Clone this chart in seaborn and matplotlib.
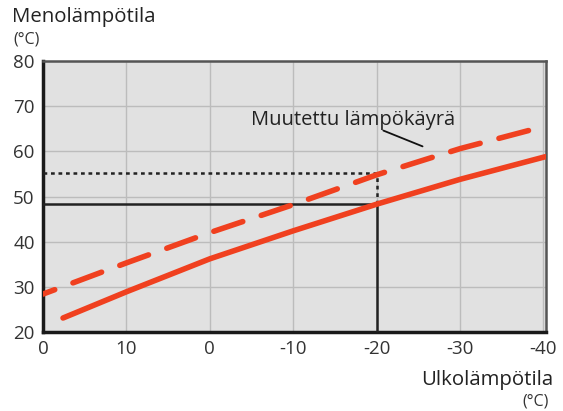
import matplotlib
matplotlib.use("Agg")
import matplotlib.pyplot as plt
import seaborn as sns
import pandas as pd

# Ulkolämpötila (x) ja menolämpötila (y)
ulko = [17.6, 10, 0, -10, -20, -30, -40.2]
meno_perus = [23.1, 28.9, 36.2, 42.4, 48.3, 53.8, 58.8]
ulko_muutettu = [20, 10, 0, -10, -20, -30, -38.2]
meno_muutettu = [28.4, 35.3, 42.0, 48.2, 54.8, 60.6, 64.6]

x_ticks = [20, 10, 0, -10, -20, -30, -40]
x_labels = ["0", "10", "0", "-10", "-20", "-30", "-40"]
y_ticks = [20, 30, 40, 50, 60, 70, 80]

# apuviivat
piste_x = -20
piste_perus = 48.3
piste_muutettu = 55.2

sns.set_style("whitegrid")
plt.rcParams['font.family'] = ['Open Sans', 'DejaVu Sans']

punainen = "#f0401f"

df1 = pd.DataFrame({"ulko": ulko, "meno": meno_perus})
df2 = pd.DataFrame({"ulko": ulko_muutettu, "meno": meno_muutettu})

fig = plt.figure(figsize=(5.63, 4.11), dpi=100)
ax = fig.add_axes([43/563, 1 - 332/411, 503/563, 271/411])
ax.set_facecolor("#e1e1e1")

sns.lineplot(data=df1, x="ulko", y="meno", ax=ax, color=punainen, lw=4,
             solid_capstyle="round", zorder=4)
sns.lineplot(data=df2, x="ulko", y="meno", ax=ax, color=punainen, lw=4,
             dashes=False, zorder=4)
ax.lines[-1].set_linestyle((0, (5.5, 3.5)))
ax.lines[-1].set_dash_capstyle("round")

ax.plot([20, piste_x], [piste_perus, piste_perus], color="#222222", lw=1.8, zorder=3)
ax.plot([piste_x, piste_x], [20, piste_perus], color="#222222", lw=1.8, zorder=3)
ax.plot([20, piste_x], [piste_muutettu, piste_muutettu], color="#222222", lw=1.8,
        ls=(0, (1.5, 1.5)), zorder=3)
ax.plot([piste_x, piste_x], [piste_perus, piste_muutettu], color="#222222", lw=1.8,
        ls=(0, (1.5, 1.5)), zorder=3)

ax.text(-17.2, 67.0, "Muutettu lämpökäyrä", fontsize=14.5, color="#222222",
        ha="center", va="center")
ax.plot([-20.8, -25.5], [64.6, 61.1], color="#111111", lw=1.3)

ax.set_xlim(20, -40.3)
ax.set_ylim(20, 80)
ax.set_xticks(x_ticks)
ax.set_xticklabels(x_labels)
ax.set_yticks(y_ticks)
ax.grid(True, color="#bcbcbc", lw=1)
ax.tick_params(axis="both", labelsize=13.5, colors="#333333", length=4, width=1,
               direction="out", pad=2)
ax.tick_params(axis="both", color="#999999")
ax.set_xlabel("")
ax.set_ylabel("")

for side in ["left", "bottom"]:
    ax.spines[side].set_color("#1a1a1a")
    ax.spines[side].set_linewidth(2.5)
for side in ["top", "right"]:
    ax.spines[side].set_color("#555555")
    ax.spines[side].set_linewidth(1.8)

fig.text(12/563, 1 - 17/411, "Menolämpötila", fontsize=14.7, color="#222222",
         ha="left", va="center")
fig.text(13/563, 1 - 40/411, "(°C)", fontsize=11.5, color="#333333",
         ha="left", va="center")
fig.text(553/563, 1 - 380/411, "Ulkolämpötila", fontsize=14.7, color="#222222",
         ha="right", va="center")
fig.text(549/563, 1 - 401/411, "(°C)", fontsize=11.5, color="#333333",
         ha="right", va="center")

fig.savefig("out.png", dpi=100)
